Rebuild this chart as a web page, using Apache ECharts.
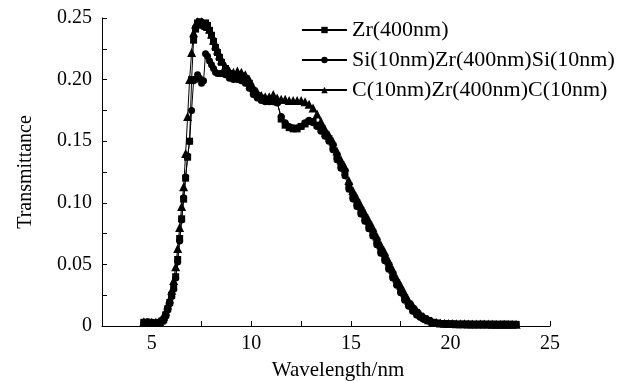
<!DOCTYPE html>
<html>
<head>
<meta charset="utf-8">
<script src="https://cdn.jsdelivr.net/npm/echarts@6/dist/echarts.min.js"></script>
<style>
  html, body { margin: 0; padding: 0; background: #fff; }
  #chart { width: 626px; height: 381px; }
</style>
</head>
<body>
<div id="chart"></div>
<script>
// wavelength grid (nm), denser on the rising edge
const wavelength = [
  4.6, 4.8, 5.0, 5.2, 5.4,
  5.5, 5.6, 5.7, 5.8, 5.9, 6.0, 6.1, 6.2, 6.3, 6.4, 6.5, 6.6, 6.7, 6.8, 6.9, 7.0,
  7.1, 7.2, 7.3, 7.4, 7.5, 7.6, 7.7, 7.8, 7.9, 8.0, 8.1, 8.2, 8.3, 8.4, 8.5,
  8.7, 8.9, 9.1, 9.3, 9.5, 9.7, 9.9, 10.1, 10.3, 10.5, 10.7, 10.9, 11.1, 11.3,
  11.5, 11.7, 11.9, 12.1, 12.3, 12.5, 12.7, 12.9, 13.1, 13.3, 13.5, 13.7, 13.9,
  14.1, 14.3, 14.5, 14.7, 14.9, 15.1, 15.3, 15.5, 15.7, 15.9, 16.1, 16.3, 16.5,
  16.7, 16.9, 17.1, 17.3, 17.5, 17.7, 17.9, 18.1, 18.3, 18.5, 18.7, 18.9, 19.1,
  19.3, 19.5, 19.7, 19.9, 20.1, 20.3, 20.5, 20.7, 20.9, 21.1, 21.3, 21.5, 21.7,
  21.9, 22.1, 22.3, 22.5, 22.7, 22.9, 23.1, 23.3
]

// Zr(400nm)
const zrValues = [
  0.003, 0.003, 0.0025, 0.0025, 0.003,
  0.004, 0.005, 0.009, 0.014, 0.019, 0.025, 0.031, 0.040, 0.054, 0.071, 0.087, 0.103, 0.120, 0.137, 0.150, 0.200,
  0.232, 0.241, 0.246, 0.247, 0.245, 0.244, 0.246, 0.244, 0.240, 0.236, 0.231, 0.226, 0.222, 0.218, 0.214,
  0.209, 0.205, 0.203, 0.204, 0.203, 0.201, 0.197, 0.191, 0.187, 0.185, 0.184, 0.184, 0.183, 0.182,
  0.168, 0.163, 0.161, 0.160, 0.160, 0.162, 0.164, 0.166, 0.166, 0.163, 0.160, 0.156, 0.152,
  0.146, 0.138, 0.131, 0.125, 0.114, 0.106, 0.100, 0.094, 0.088, 0.082, 0.076, 0.069, 0.062,
  0.056, 0.049, 0.042, 0.035, 0.029, 0.023, 0.018, 0.014, 0.011, 0.008, 0.006, 0.0045, 0.003,
  0.0025, 0.002, 0.002, 0.0018, 0.0018, 0.0015, 0.0015, 0.0016, 0.0015, 0.0015, 0.0014, 0.0015, 0.0015,
  0.0014, 0.0015, 0.0014, 0.0014, 0.0015, 0.0014, 0.0014, 0.0013
]

// Si(10nm)Zr(400nm)Si(10nm)
const siValues = [
  0.003, 0.0035, 0.003, 0.0025, 0.003,
  0.004, 0.005, 0.008, 0.013, 0.018, 0.024, 0.030, 0.039, 0.052, 0.069, 0.086, 0.104, 0.121, 0.138, 0.150, 0.175,
  0.199, 0.200, 0.204, 0.201, 0.197, 0.199, 0.221, 0.219, 0.215, 0.212, 0.209, 0.206, 0.205, 0.205, 0.205,
  0.204, 0.201, 0.200, 0.200, 0.199, 0.197, 0.193, 0.188, 0.185, 0.183, 0.182, 0.182, 0.182, 0.181,
  0.170, 0.165, 0.162, 0.161, 0.161, 0.162, 0.165, 0.167, 0.165, 0.162, 0.158, 0.154, 0.150,
  0.143, 0.135, 0.128, 0.122, 0.111, 0.103, 0.097, 0.091, 0.085, 0.079, 0.073, 0.066, 0.059,
  0.053, 0.046, 0.039, 0.033, 0.027, 0.021, 0.016, 0.012, 0.009, 0.007, 0.005, 0.0038, 0.0028,
  0.0022, 0.0018, 0.0017, 0.0016, 0.0016, 0.0015, 0.0014, 0.0015, 0.0014, 0.0014, 0.0013, 0.0014, 0.0014,
  0.0013, 0.0014, 0.0013, 0.0013, 0.0014, 0.0013, 0.0013, 0.0012
]

// C(10nm)Zr(400nm)C(10nm)
const cValues = [
  0.0035, 0.003, 0.003, 0.003, 0.0035,
  0.005, 0.008, 0.012, 0.017, 0.022, 0.029, 0.037, 0.048, 0.063, 0.080, 0.097, 0.113, 0.140, 0.170, 0.200, 0.222,
  0.238, 0.245, 0.247, 0.246, 0.247, 0.246, 0.244, 0.243, 0.241, 0.237, 0.232, 0.228, 0.224, 0.220, 0.216,
  0.211, 0.207, 0.206, 0.207, 0.206, 0.204, 0.200, 0.194, 0.190, 0.187, 0.186, 0.186, 0.188, 0.185,
  0.184, 0.184, 0.183, 0.183, 0.183, 0.183, 0.182, 0.180, 0.177, 0.172, 0.166, 0.160, 0.155,
  0.150, 0.142, 0.135, 0.129, 0.118, 0.110, 0.104, 0.098, 0.092, 0.086, 0.080, 0.073, 0.066,
  0.060, 0.053, 0.046, 0.039, 0.033, 0.027, 0.021, 0.017, 0.013, 0.0095, 0.007, 0.005, 0.0035,
  0.0028, 0.0024, 0.0022, 0.002, 0.002, 0.0019, 0.0018, 0.0018, 0.0017, 0.0017, 0.0016, 0.0016, 0.0016,
  0.0016, 0.0015, 0.0015, 0.0015, 0.0015, 0.0014, 0.0014, 0.0014
]

const seriesNames = ['Zr(400nm)', 'Si(10nm)Zr(400nm)Si(10nm)', 'C(10nm)Zr(400nm)C(10nm)']

const font = 'Liberation Serif, Times New Roman, serif'
const pairs = (vals) => wavelength.map((w, i) => [w, vals[i]])

const chart = echarts.init(document.getElementById('chart'), null, { renderer: 'canvas' })

function makeSeries(name, vals, symbol, size) {
  return {
    type: 'line',
    name: name,
    data: pairs(vals),
    symbol: symbol,
    symbolSize: size,
    showSymbol: true,
    lineStyle: { color: '#000', width: 1 },
    itemStyle: { color: '#000' },
    animation: false
  }
}

chart.setOption({
  animation: false,
  backgroundColor: '#fff',
  grid: { left: 102, right: 76, top: 18, bottom: 55, outerBoundsMode: 'none' },
  legend: {
    orient: 'vertical',
    left: 296,
    top: 14,
    itemWidth: 45,
    itemHeight: 8,
    itemGap: 8,
    textStyle: { fontFamily: font, fontSize: 22, color: '#000' },
    data: seriesNames
  },
  xAxis: {
    type: 'value',
    min: 2.5,
    max: 25,
    interval: 2.5,
    name: 'Wavelength/nm',
    nameLocation: 'middle',
    nameGap: 34,
    nameTextStyle: { fontFamily: font, fontSize: 21, color: '#000', padding: [0, 0, 0, 24] },
    axisLine: { lineStyle: { color: '#000', width: 1 } },
    axisTick: { inside: true, length: 5, lineStyle: { color: '#000' } },
    axisLabel: {
      fontFamily: font, fontSize: 20, color: '#000', margin: 8,
      formatter: (v) => (Math.round(v * 10) % 50 === 0 ? String(v) : '')
    },
    splitLine: { show: false }
  },
  yAxis: {
    type: 'value',
    min: 0,
    max: 0.25,
    interval: 0.025,
    name: 'Transmittance',
    nameLocation: 'middle',
    nameGap: 66,
    nameTextStyle: { fontFamily: font, fontSize: 20, color: '#000' },
    axisLine: { show: true, lineStyle: { color: '#000', width: 1 } },
    axisTick: { show: true, inside: true, length: 5, lineStyle: { color: '#000' } },
    axisLabel: {
      fontFamily: font, fontSize: 20, color: '#000', margin: 10,
      formatter: (v) => {
        const k = Math.round(v * 1000)
        if (k % 50 !== 0) return ''
        return k === 0 ? '0' : v.toFixed(2)
      }
    },
    splitLine: { show: false }
  },
  series: [
    makeSeries(seriesNames[0], zrValues, 'rect', 7),
    makeSeries(seriesNames[1], siValues, 'circle', 7),
    makeSeries(seriesNames[2], cValues, 'triangle', 9)
  ]
})
</script>
</body>
</html>
